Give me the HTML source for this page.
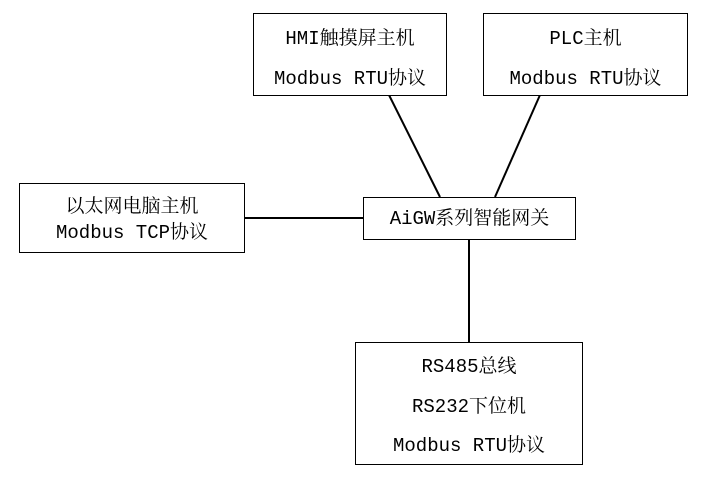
<!DOCTYPE html>
<html><head><meta charset="utf-8"><style>
body{margin:0;width:702px;height:479px;background:#fff;position:relative;overflow:hidden;font-family:"Liberation Mono","Noto Serif CJK SC",monospace;font-size:19px;color:#000}
.b{position:absolute;border:1px solid #000;box-sizing:border-box;background:#fff;text-align:center}
.b div{position:absolute;left:0;right:0;line-height:22px;white-space:nowrap}
</style></head><body>
<svg width="702" height="479" style="position:absolute;left:0;top:0">
<g stroke="#000" stroke-width="2">
<line x1="389" y1="95" x2="440" y2="197"/>
<line x1="540" y1="95" x2="495" y2="197"/>
<line x1="244" y1="218" x2="363" y2="218"/>
<line x1="469" y1="239" x2="469" y2="342"/>
</g></svg>
<div class="b" style="left:253px;top:13px;width:194px;height:83px"><div style="top:14px">HMI触摸屏主机</div><div style="top:54px">Modbus RTU协议</div></div>
<div class="b" style="left:483px;top:13px;width:205px;height:83px"><div style="top:14px">PLC主机</div><div style="top:54px">Modbus RTU协议</div></div>
<div class="b" style="left:19px;top:183px;width:226px;height:70px"><div style="top:12px">以太网电脑主机</div><div style="top:38px">Modbus TCP协议</div></div>
<div class="b" style="left:363px;top:197px;width:213px;height:43px"><div style="top:10px">AiGW系列智能网关</div></div>
<div class="b" style="left:355px;top:342px;width:228px;height:123px"><div style="top:13px">RS485总线</div><div style="top:53px">RS232下位机</div><div style="top:92px">Modbus RTU协议</div></div>
</body></html>
